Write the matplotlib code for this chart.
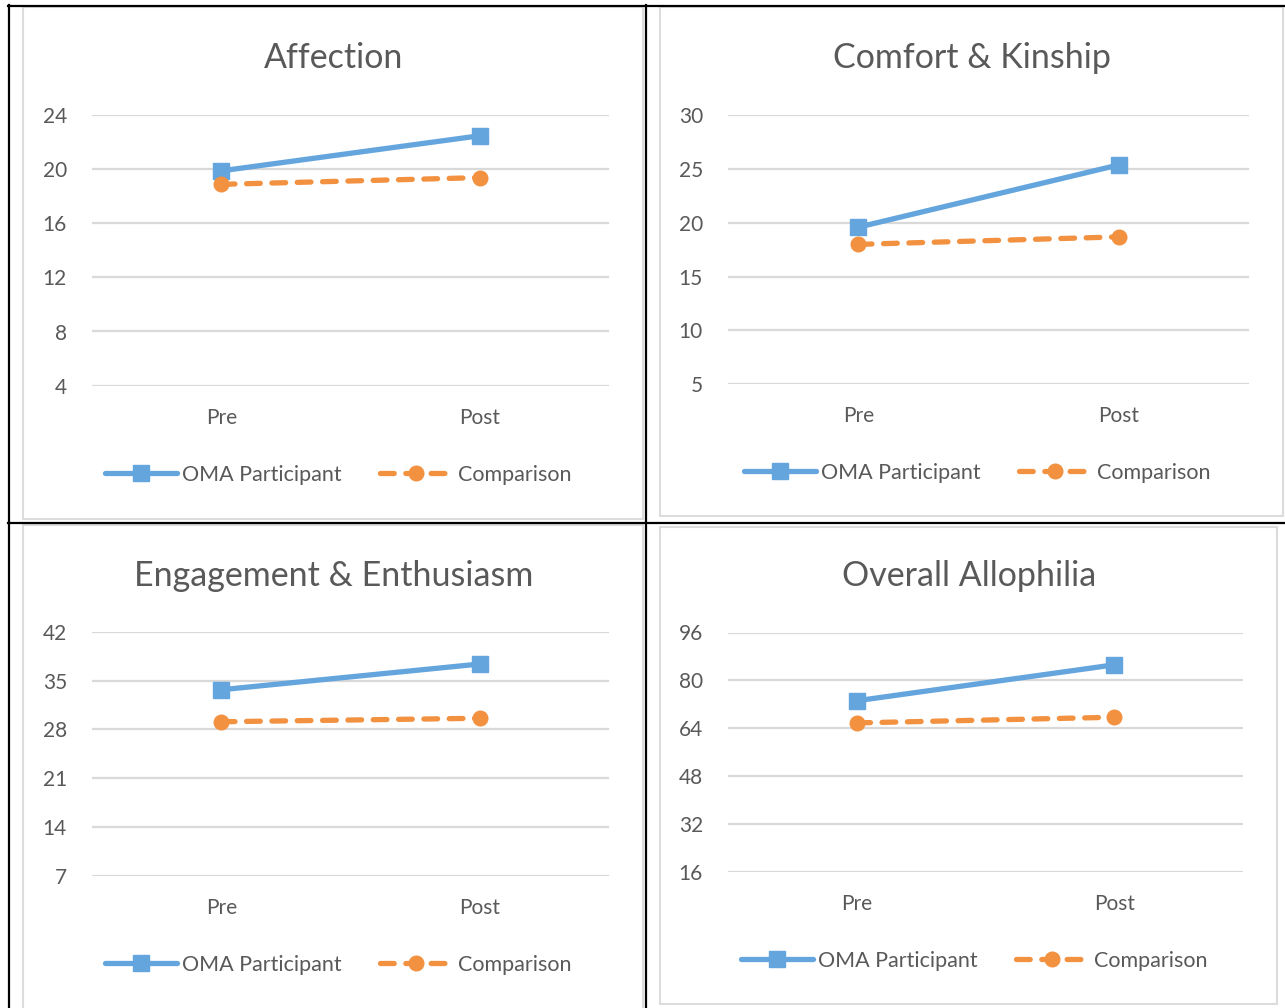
import matplotlib
matplotlib.use("Agg")
import matplotlib.pyplot as plt
from matplotlib.lines import Line2D
from matplotlib.patches import Rectangle

plt.rcParams["font.family"] = ["Lato", "DejaVu Sans"]

# ---- data -------------------------------------------------------------
phases = ["Pre", "Post"]
series_names = ["OMA Participant", "Comparison"]

titles = ["Affection", "Comfort & Kinship", "Engagement & Enthusiasm", "Overall Allophilia"]

affection_oma = [19.9, 22.5]
affection_cmp = [18.9, 19.4]
comfort_oma = [19.6, 25.4]
comfort_cmp = [18.0, 18.7]
engagement_oma = [33.7, 37.4]
engagement_cmp = [29.1, 29.6]
overall_oma = [73.2, 85.2]
overall_cmp = [65.8, 67.7]

affection_ticks = [4, 8, 12, 16, 20, 24]
comfort_ticks = [5, 10, 15, 20, 25, 30]
engagement_ticks = [7, 14, 21, 28, 35, 42]
overall_ticks = [16, 32, 48, 64, 80, 96]

# ---- styling ----------------------------------------------------------
BLUE = "#63A5DC"
ORANGE = "#F29140"
GRID = "#D9D9D9"
TEXT = "#595959"
BOX = "#DCDCDC"

W, H = 1285, 1008
fig = plt.figure(figsize=(W / 100, H / 100), dpi=100)
fig.patch.set_facecolor("white")


def fx(px):
    return px / W


def fy(py):
    return 1 - py / H


# panel geometry in pixels: plot area, chart box, title centre, legend centre
panels = [
    dict(plot=(92, 609, 115.5, 385.5), box=(23, 643, 7, 519), title=(334, 58), legend=(338, 475)),
    dict(plot=(728, 1249, 115.5, 384), box=(660, 1283, 7, 516), title=(972, 58), legend=(977, 473)),
    dict(plot=(92, 609, 632, 875.5), box=(23, 643, 525, 1012), title=(334, 576), legend=(338, 965)),
    dict(plot=(728, 1243, 632.5, 872), box=(660, 1277, 527, 1004), title=(969, 576), legend=(974, 961)),
]

data = [
    (affection_oma, affection_cmp, affection_ticks),
    (comfort_oma, comfort_cmp, comfort_ticks),
    (engagement_oma, engagement_cmp, engagement_ticks),
    (overall_oma, overall_cmp, overall_ticks),
]

# chart boxes
for p in panels:
    x0, x1, y0, y1 = p["box"]
    fig.patches.append(Rectangle((fx(x0), fy(y1)), fx(x1 - x0), (y1 - y0) / H,
                                 transform=fig.transFigure, fill=False,
                                 edgecolor=BOX, linewidth=1.5, zorder=0))

# table rules
for xs, ys in [((8, 1285), (5.5, 5.5)), ((8, 1285), (522.5, 522.5)),
               ((9, 9), (5, 1008)), ((646, 646), (5, 1008))]:
    fig.add_artist(Line2D([fx(xs[0]), fx(xs[1])], [fy(ys[0]), fy(ys[1])],
                          transform=fig.transFigure, color="black", linewidth=1.6))

for p, (oma, cmp_, ticks), title in zip(panels, data, titles):
    x0, x1, y0, y1 = p["plot"]
    ax = fig.add_axes([fx(x0), fy(y1), fx(x1 - x0), (y1 - y0) / H])
    xs = list(range(len(phases)))
    ax.plot(xs, oma, color=BLUE, linewidth=3.8, marker="s", markersize=11.5,
            markerfacecolor=BLUE, markeredgecolor=BLUE, clip_on=False, zorder=3,
            solid_capstyle="round", label=series_names[0])
    ax.plot(xs, cmp_, color=ORANGE, linewidth=3.8, marker="o", markersize=10.5,
            markerfacecolor=ORANGE, markeredgecolor=ORANGE, clip_on=False, zorder=4,
            linestyle=(0, (2.6, 2.2)), dash_capstyle="round", label=series_names[1])
    ax.set_xlim(-0.5, len(phases) - 0.5)
    ax.set_ylim(ticks[0], ticks[-1])
    ax.set_yticks(ticks)
    ax.set_xticks(xs)
    ax.set_xticklabels(phases)
    ax.grid(axis="y", color=GRID, linewidth=1.6)
    ax.set_axisbelow(True)
    for s in ax.spines.values():
        s.set_visible(False)
    ax.tick_params(axis="both", length=0, labelsize=15, labelcolor=TEXT)
    ax.tick_params(axis="y", pad=18)
    ax.tick_params(axis="x", pad=16)
    for t in ax.get_yticklabels():
        t.set_verticalalignment("center_baseline")

    tx, ty = p["title"]
    fig.text(fx(tx), fy(ty), title, ha="center", va="center", fontsize=24.5, color=TEXT)

    lx, ly = p["legend"]
    leg = ax.legend(loc="center", bbox_to_anchor=(fx(lx), fy(ly)),
                    bbox_transform=fig.transFigure, ncol=2, frameon=False,
                    fontsize=15.5, handlelength=3.35, handletextpad=0.25,
                    columnspacing=1.8, numpoints=1, borderpad=0)
    for t in leg.get_texts():
        t.set_color(TEXT)

fig.savefig("out.png", dpi=100, facecolor="white")
